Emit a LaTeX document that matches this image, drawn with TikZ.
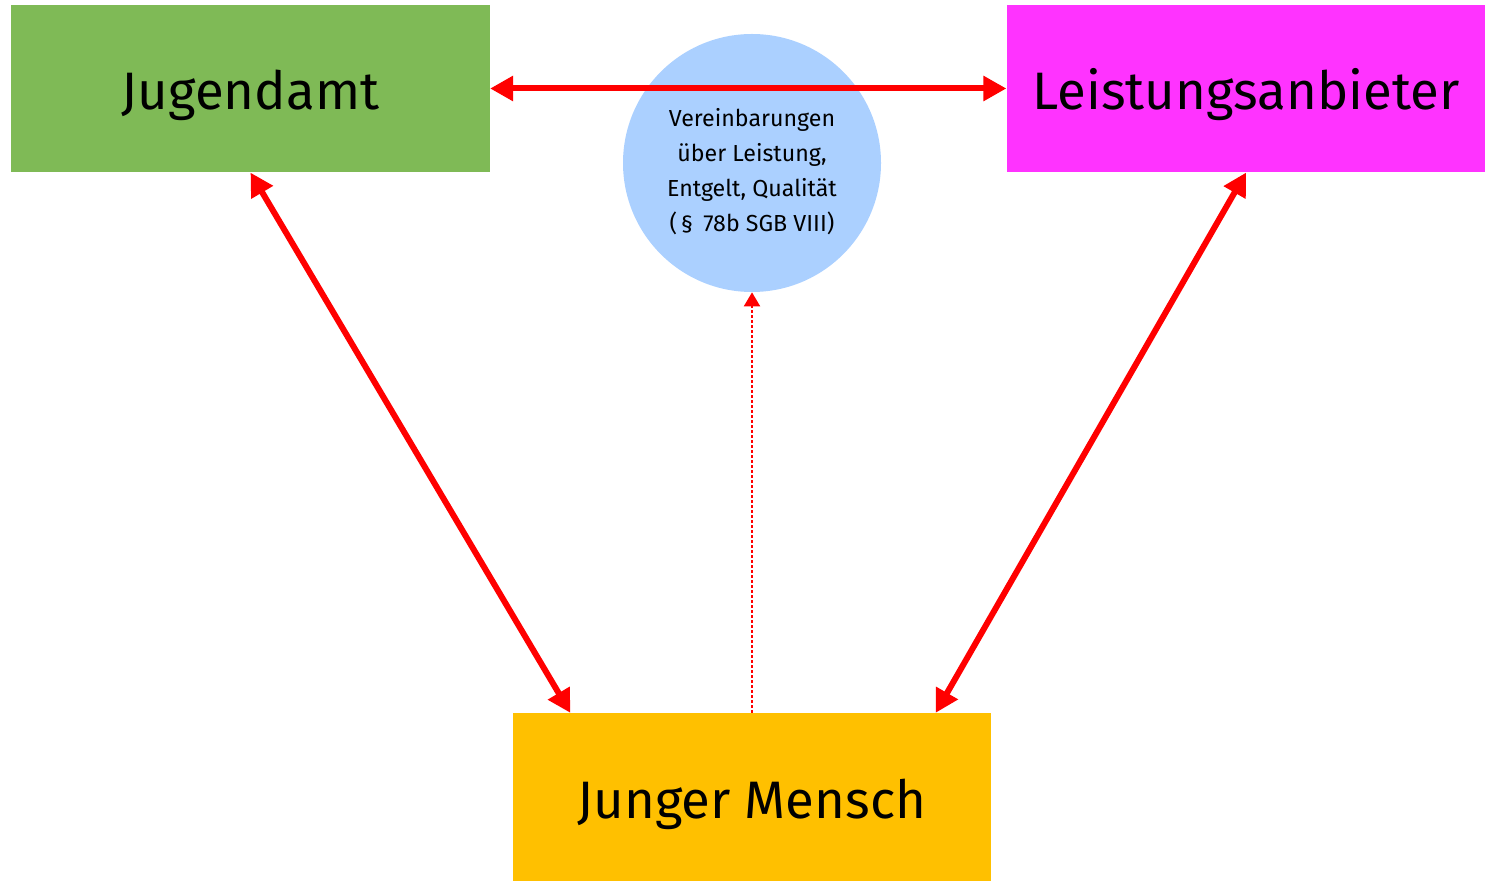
\documentclass[tikz,border=0pt]{standalone}
\usepackage{fontspec}
\setmainfont{Fira Sans}
\usetikzlibrary{arrows.meta}
\definecolor{amtgreen}{RGB}{127,186,86}
\definecolor{anbieterpink}{RGB}{255,51,255}
\definecolor{menschorange}{RGB}{255,192,0}
\definecolor{vereinblue}{RGB}{171,208,255}
\begin{document}
\begin{tikzpicture}[
    party/.style={rectangle, minimum width=9.57cm, minimum height=3.35cm, inner sep=0pt,
                  text height=1.0cm, text depth=0.14cm, font=\fontsize{30}{36}\selectfont},
    relation/.style={draw=red, line width=0.12cm, {Triangle[length=0.46cm, width=0.48cm]}-{Triangle[length=0.46cm, width=0.48cm]}},
    agreement/.style={draw=red, line width=0.04cm, dash pattern=on 0.05cm off 0.05cm, -{Triangle[length=0.28cm, width=0.32cm]}}
  ]
        \useasboundingbox (0,0) rectangle (29.82,-17.62);

        % Draw nodes
        \node[party, fill=amtgreen] (amt) at (5.01,-1.77) {Jugendamt};
        \node[party, fill=anbieterpink] (anbieter) at (24.92,-1.77) {Leistungsanbieter};
        \node[party, fill=menschorange] (mensch) at (15.04,-15.94) {Junger Mensch};
        \node[circle, fill=vereinblue, minimum size=5.16cm, inner sep=0pt, align=center,
              font=\fontsize{13.2}{19.9}\selectfont] (verein) at (15.04,-3.26)
              {\\[0.02cm]Vereinbarungen\\über Leistung,\\Entgelt, Qualität\\(\,§\, 78b SGB VIII)};

        % Draw connections
        \draw[relation] (amt.east) -- (anbieter.west);
        \draw[relation] (amt.south) -- ([xshift=1.16cm]mensch.north west);
        \draw[relation] (anbieter.south) -- ([xshift=-1.12cm]mensch.north east);
        \draw[agreement] (mensch.north) -- (verein.south);
\end{tikzpicture}
\end{document}
